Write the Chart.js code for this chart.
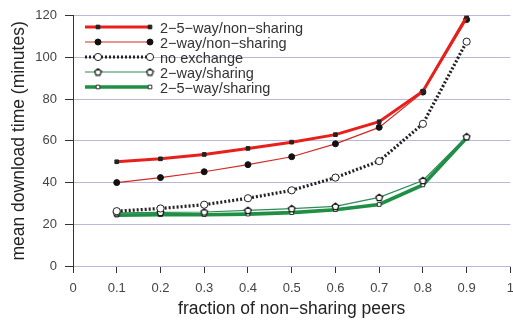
<!DOCTYPE html>
<html>
<head>
<meta charset="utf-8">
<script src="https://cdn.jsdelivr.net/npm/chart.js@4/dist/chart.umd.min.js"></script>
<style>
html,body{margin:0;padding:0;background:#fff;overflow:hidden;width:513px;height:320px;}
#wrap{position:absolute;left:0;top:0;width:522px;height:320px;}
</style>
</head>
<body>
<div id="wrap"><canvas id="c" width="522" height="320"></canvas></div>
<script>
const fractions = [0.1, 0.2, 0.3, 0.4, 0.5, 0.6, 0.7, 0.8, 0.9];
const seriesNames = ["2\u22125\u2212way/non\u2212sharing", "2\u2212way/non\u2212sharing", "no exchange", "2\u2212way/sharing", "2\u22125\u2212way/sharing"];
const way25NonSharing = [50, 51.4, 53.5, 56.4, 59.4, 63, 69.2, 83.8, 119.5];
const way2NonSharing  = [40, 42.4, 45.2, 48.6, 52.4, 58.6, 66.5, 83.4, 118.2];
const noExchange      = [26.3, 27.6, 29.4, 32.5, 36.3, 42.4, 50.3, 68.2, 107.6];
const way2Sharing     = [25.5, 25.7, 25.9, 26.7, 27.5, 28.6, 32.9, 41, 62];
const way25Sharing    = [24.4, 24.6, 24.6, 24.9, 25.6, 27, 29.5, 38.9, 61.5];
const xTicks = [0, 0.1, 0.2, 0.3, 0.4, 0.5, 0.6, 0.7, 0.8, 0.9, 1];
const yTicks = [0, 20, 40, 60, 80, 100, 120];

const FONT = '"Liberation Sans", Arial, sans-serif';
const pts = arr => arr.map((v, i) => ({x: fractions[i], y: v}));

function pentagon(size) {
  const c = document.createElement('canvas');
  c.width = size; c.height = size;
  const g = c.getContext('2d');
  const r = size / 2 - 1, cx = size / 2, cy = size / 2 + 0.3;
  g.beginPath();
  for (let k = 0; k < 5; k++) {
    const a = -Math.PI / 2 + k * 2 * Math.PI / 5;
    const px = cx + r * Math.cos(a), py = cy + r * Math.sin(a);
    k ? g.lineTo(px, py) : g.moveTo(px, py);
  }
  g.closePath();
  g.fillStyle = '#fff'; g.fill();
  g.strokeStyle = '#111'; g.lineWidth = 1.2; g.stroke();
  return c;
}
const pent = pentagon(9);

const styles = [
  {borderColor:'#e8201c', borderWidth:3, pointStyle:'rect', pointRadius:2.6, pointBackgroundColor:'#222', pointBorderColor:'#222', borderDash:[]},
  {borderColor:'#d42a26', borderWidth:1.2, pointStyle:'circle', pointRadius:3, pointBackgroundColor:'#111', pointBorderColor:'#111', borderDash:[]},
  {borderColor:'#222', borderWidth:3.2, pointStyle:'circle', pointRadius:3.6, pointBackgroundColor:'#fff', pointBorderColor:'#222', borderDash:[2,2]},
  {borderColor:'#2e8b57', borderWidth:1.2, pointStyle:pent, pointRadius:4, pointBackgroundColor:'#fff', pointBorderColor:'#222', borderDash:[]},
  {borderColor:'#1f8f44', borderWidth:3.6, pointStyle:'rect', pointRadius:2.6, pointBackgroundColor:'#fff', pointBorderColor:'#333', borderDash:[]}
];
const values = [way25NonSharing, way2NonSharing, noExchange, way2Sharing, way25Sharing];

const datasets = values.map((v, i) => Object.assign({
  label: seriesNames[i], data: pts(v), tension: 0, pointBorderWidth: 1, fill: false
}, styles[i]));

const legendPlugin = {
  id: 'customLegend',
  afterDatasetsDraw(chart) {
    const ctx = chart.ctx;
    const x0 = 85, x1 = 150, tx = 160;
    const ys = [27, 42, 57, 72, 87];
    ctx.save();
    chart.data.datasets.forEach((ds, i) => {
      const y = ys[i];
      ctx.beginPath();
      ctx.strokeStyle = ds.borderColor;
      ctx.lineWidth = ds.borderWidth;
      ctx.setLineDash(ds.borderDash || []);
      ctx.moveTo(x0, y); ctx.lineTo(x1, y); ctx.stroke();
      ctx.setLineDash([]);
      [x0 + 13, x1].forEach(px => {
        ctx.fillStyle = ds.pointBackgroundColor;
        ctx.strokeStyle = ds.pointBorderColor;
        ctx.lineWidth = 1;
        Chart.helpers.drawPoint(ctx, {pointStyle: ds.pointStyle, radius: ds.pointRadius, borderWidth: 1, rotation: 0}, px, y);
      });
      ctx.fillStyle = '#333';
      ctx.font = '14.5px ' + FONT;
      ctx.textBaseline = 'middle';
      ctx.textAlign = 'left';
      ctx.fillText(ds.label, tx, y + 2);
    });
    ctx.restore();
  }
};

new Chart(document.getElementById('c'), {
  type: 'line',
  data: { datasets },
  options: {
    responsive: false,
    animation: false,
    layout: { padding: { top: 14, right: 8, left: 0, bottom: 0 } },
    plugins: { legend: { display: false }, tooltip: { enabled: false } },
    scales: {
      x: {
        type: 'linear', min: 0, max: 1,
        afterBuildTicks: s => { s.ticks = xTicks.map(v => ({value: v})); },
        afterFit: s => { s.height = 54; },
        ticks: { color: '#444', font: { family: FONT, size: 13 }, padding: 8, maxRotation: 0, autoSkip: false,
                 callback: v => String(v) },
        grid: { drawOnChartArea: false, drawTicks: true, tickLength: 7, tickColor: '#333', color: '#b8b8d8' },
        border: { display: true, color: '#b8b8d8', width: 1 },
        title: { display: true, text: 'fraction of non\u2212sharing peers', color: '#222',
                 font: { family: FONT, size: 17.5 }, padding: { top: 2, bottom: 0 } }
      },
      y: {
        min: 0, max: 120,
        afterBuildTicks: s => { s.ticks = yTicks.map(v => ({value: v})); },
        afterFit: s => { s.width = 73; },
        ticks: { color: '#444', font: { family: FONT, size: 13 }, padding: 8 },
        grid: { drawOnChartArea: true, drawTicks: true, tickLength: 8, tickColor: '#333', color: '#b8b8d8', lineWidth: 1 },
        border: { display: true, color: '#333', width: 1 },
        title: { display: true, text: 'mean download time (minutes)', color: '#222',
                 font: { family: FONT, size: 17.5 }, padding: { top: 9, bottom: 2 } }
      }
    }
  },
  plugins: [legendPlugin]
});
</script>
</body>
</html>
